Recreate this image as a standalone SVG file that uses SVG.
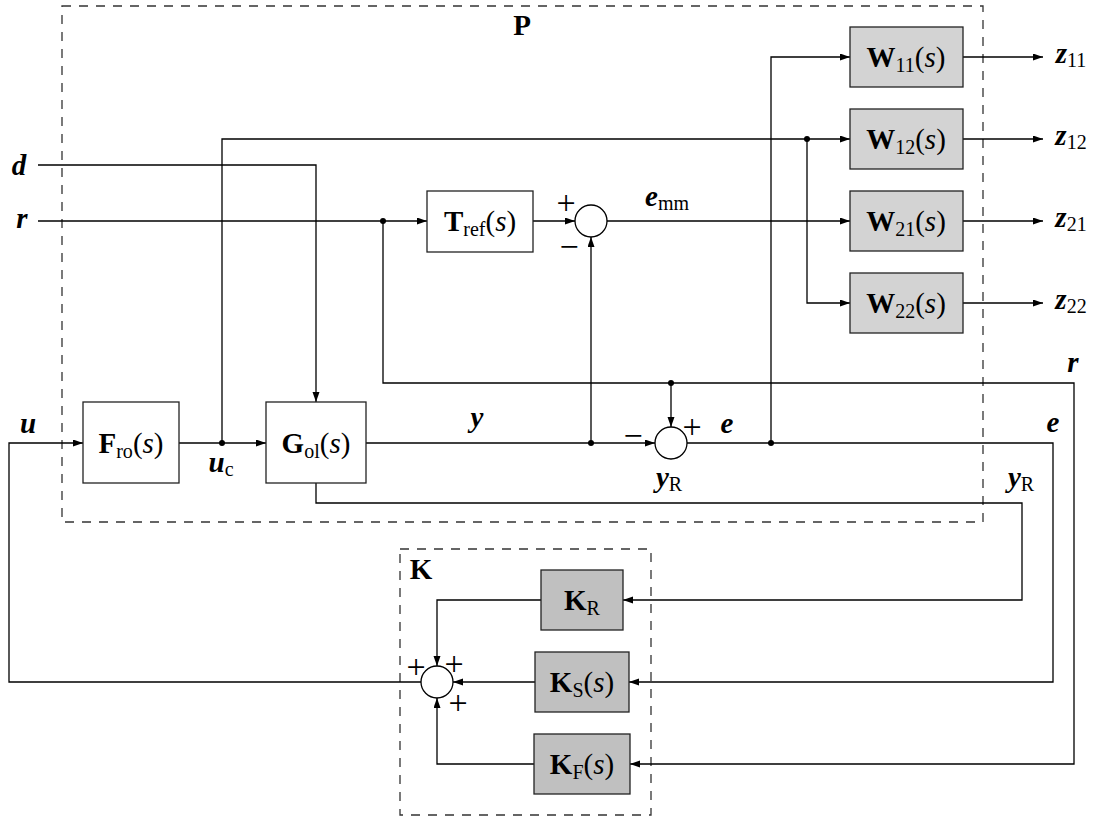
<svg xmlns="http://www.w3.org/2000/svg" width="1101" height="818" viewBox="0 0 1101 818">
<style>
.t{font-family:"Liberation Serif",serif;font-size:29px;fill:#000}
.b{font-weight:bold}
.bi{font-weight:bold;font-style:italic}
.i{font-style:italic}
.s{font-size:20px;font-weight:normal;font-style:normal}
.blk{fill:#fff;stroke:#222;stroke-width:1.3}
.gw{fill:#d3d3d3;stroke:#222;stroke-width:1.3}
.gk{fill:#c0c0c0;stroke:#222;stroke-width:1.3}
.sum{fill:#fff;stroke:#000;stroke-width:1.3}
.dash{fill:none;stroke:#333;stroke-width:1.3;stroke-dasharray:9,8}
.w{fill:none;stroke:#000;stroke-width:1.3}
.a{marker-end:url(#arr)}
.pm{font-family:"Liberation Serif",serif;font-size:34px;fill:#000;text-anchor:middle}
</style>
<defs>
<marker id="arr" markerUnits="userSpaceOnUse" markerWidth="11" markerHeight="8" refX="10" refY="3.5" orient="auto">
<path d="M0,0 L10,3.5 L0,7 z" fill="#000"/>
</marker>
</defs>
<rect width="1101" height="818" fill="#fff"/>

<g id="P">
<rect class="dash" x="62" y="6" width="921" height="516"/>
<text class="t b" x="522" y="35" text-anchor="middle">P</text>
</g>
<g id="Kbox">
<rect class="dash" x="400" y="549" width="251" height="266"/>
<text class="t b" x="421" y="579" text-anchor="middle">K</text>
</g>

<g id="connectors">
<path class="w a" d="M38,165 H316 V402"/>
<path class="w a" d="M38,221 H427"/>
<path class="w a" d="M533,221 H575"/>
<path class="w a" d="M607,221 H850"/>
<path class="w a" d="M222,443 V139 H850"/>
<path class="w a" d="M807,139 V303 H850"/>
<path class="w a" d="M963,57 H1043"/>
<path class="w a" d="M963,139 H1043"/>
<path class="w a" d="M963,221 H1043"/>
<path class="w a" d="M963,303 H1043"/>
<path class="w a" d="M421,682 H9 V443 H83"/>
<path class="w a" d="M179,443 H266"/>
<path class="w a" d="M366,443 H655"/>
<path class="w a" d="M591,443 V237"/>
<path class="w a" d="M383,221 V383 H1074 V764 H630"/>
<path class="w a" d="M671,383 V427"/>
<path class="w a" d="M687,443 H1053 V682 H629"/>
<path class="w a" d="M771,443 V57 H850"/>
<path class="w a" d="M316,483 V503 H1022 V600 H623"/>
<path class="w a" d="M541,600 H437 V666"/>
<path class="w a" d="M535,682 H453"/>
<path class="w a" d="M534,764 H437 V698"/>
<g fill="#000">
<circle cx="383" cy="221" r="3"/>
<circle cx="807" cy="139" r="3"/>
<circle cx="222" cy="443" r="3"/>
<circle cx="591" cy="443" r="3"/>
<circle cx="671" cy="383" r="3"/>
<circle cx="771" cy="443" r="3"/>
</g>
</g>

<g id="Tref">
<rect class="blk" x="427" y="191" width="106" height="61"/>
<text class="t" x="480" y="231" text-anchor="middle"><tspan class="b">T</tspan><tspan class="s" dy="5">ref</tspan><tspan dy="-5">(</tspan><tspan class="i">s</tspan>)</text>
</g>
<g id="Fro">
<rect class="blk" x="83" y="402" width="96" height="81"/>
<text class="t" x="131" y="453" text-anchor="middle"><tspan class="b">F</tspan><tspan class="s" dy="5">ro</tspan><tspan dy="-5">(</tspan><tspan class="i">s</tspan>)</text>
</g>
<g id="Gol">
<rect class="blk" x="266" y="402" width="100" height="81"/>
<text class="t" x="316" y="453" text-anchor="middle"><tspan class="b">G</tspan><tspan class="s" dy="5">ol</tspan><tspan dy="-5">(</tspan><tspan class="i">s</tspan>)</text>
</g>
<g id="W11">
<rect class="gw" x="850" y="27" width="113" height="60"/>
<text class="t" x="906" y="67" text-anchor="middle"><tspan class="b">W</tspan><tspan class="s" dy="5">11</tspan><tspan dy="-5">(</tspan><tspan class="i">s</tspan>)</text>
</g>
<g id="W12">
<rect class="gw" x="850" y="109" width="113" height="60"/>
<text class="t" x="906" y="149" text-anchor="middle"><tspan class="b">W</tspan><tspan class="s" dy="5">12</tspan><tspan dy="-5">(</tspan><tspan class="i">s</tspan>)</text>
</g>
<g id="W21">
<rect class="gw" x="850" y="191" width="113" height="60"/>
<text class="t" x="906" y="231" text-anchor="middle"><tspan class="b">W</tspan><tspan class="s" dy="5">21</tspan><tspan dy="-5">(</tspan><tspan class="i">s</tspan>)</text>
</g>
<g id="W22">
<rect class="gw" x="850" y="273" width="113" height="60"/>
<text class="t" x="906" y="313" text-anchor="middle"><tspan class="b">W</tspan><tspan class="s" dy="5">22</tspan><tspan dy="-5">(</tspan><tspan class="i">s</tspan>)</text>
</g>
<g id="KR">
<rect class="gk" x="541" y="570" width="82" height="60"/>
<text class="t" x="582" y="610" text-anchor="middle"><tspan class="b">K</tspan><tspan class="s" dy="5">R</tspan></text>
</g>
<g id="KS">
<rect class="gk" x="535" y="652" width="94" height="60"/>
<text class="t" x="582" y="692" text-anchor="middle"><tspan class="b">K</tspan><tspan class="s" dy="5">S</tspan><tspan dy="-5">(</tspan><tspan class="i">s</tspan>)</text>
</g>
<g id="KF">
<rect class="gk" x="534" y="734" width="96" height="60"/>
<text class="t" x="582" y="774" text-anchor="middle"><tspan class="b">K</tspan><tspan class="s" dy="5">F</tspan><tspan dy="-5">(</tspan><tspan class="i">s</tspan>)</text>
</g>

<g id="S1">
<circle class="sum" cx="591" cy="221" r="16"/>
<text class="pm" x="566" y="214">+</text>
<text class="pm" x="569" y="258">−</text>
</g>
<g id="S2">
<circle class="sum" cx="671" cy="443" r="16"/>
<text class="pm" x="633" y="447">−</text>
<text class="pm" x="692" y="438">+</text>
</g>
<g id="S3">
<circle class="sum" cx="437" cy="682" r="16"/>
<text class="pm" x="416" y="678">+</text>
<text class="pm" x="454" y="675">+</text>
<text class="pm" x="458" y="714">+</text>
</g>

<g id="labels">
<text class="t bi" x="19" y="175" text-anchor="middle">d</text>
<text class="t bi" x="22" y="228" text-anchor="middle">r</text>
<text class="t bi" x="28" y="433" text-anchor="middle">u</text>
<text class="t" x="221" y="472" text-anchor="middle"><tspan class="bi">u</tspan><tspan class="s" dy="4">c</tspan></text>
<text class="t bi" x="477" y="427" text-anchor="middle">y</text>
<text class="t" x="669" y="487" text-anchor="middle"><tspan class="bi">y</tspan><tspan class="s" dy="4">R</tspan></text>
<text class="t bi" x="727" y="433" text-anchor="middle">e</text>
<text class="t" x="667" y="206" text-anchor="middle"><tspan class="bi">e</tspan><tspan class="s" dy="4">mm</tspan></text>
<text class="t bi" x="1053" y="432" text-anchor="middle">e</text>
<text class="t bi" x="1073" y="372" text-anchor="middle">r</text>
<text class="t" x="1021" y="487" text-anchor="middle"><tspan class="bi">y</tspan><tspan class="s" dy="4">R</tspan></text>
<text class="t" x="1071" y="63" text-anchor="middle"><tspan class="bi">z</tspan><tspan class="s" dy="4">11</tspan></text>
<text class="t" x="1071" y="145" text-anchor="middle"><tspan class="bi">z</tspan><tspan class="s" dy="4">12</tspan></text>
<text class="t" x="1071" y="227" text-anchor="middle"><tspan class="bi">z</tspan><tspan class="s" dy="4">21</tspan></text>
<text class="t" x="1071" y="309" text-anchor="middle"><tspan class="bi">z</tspan><tspan class="s" dy="4">22</tspan></text>
</g>
</svg>
